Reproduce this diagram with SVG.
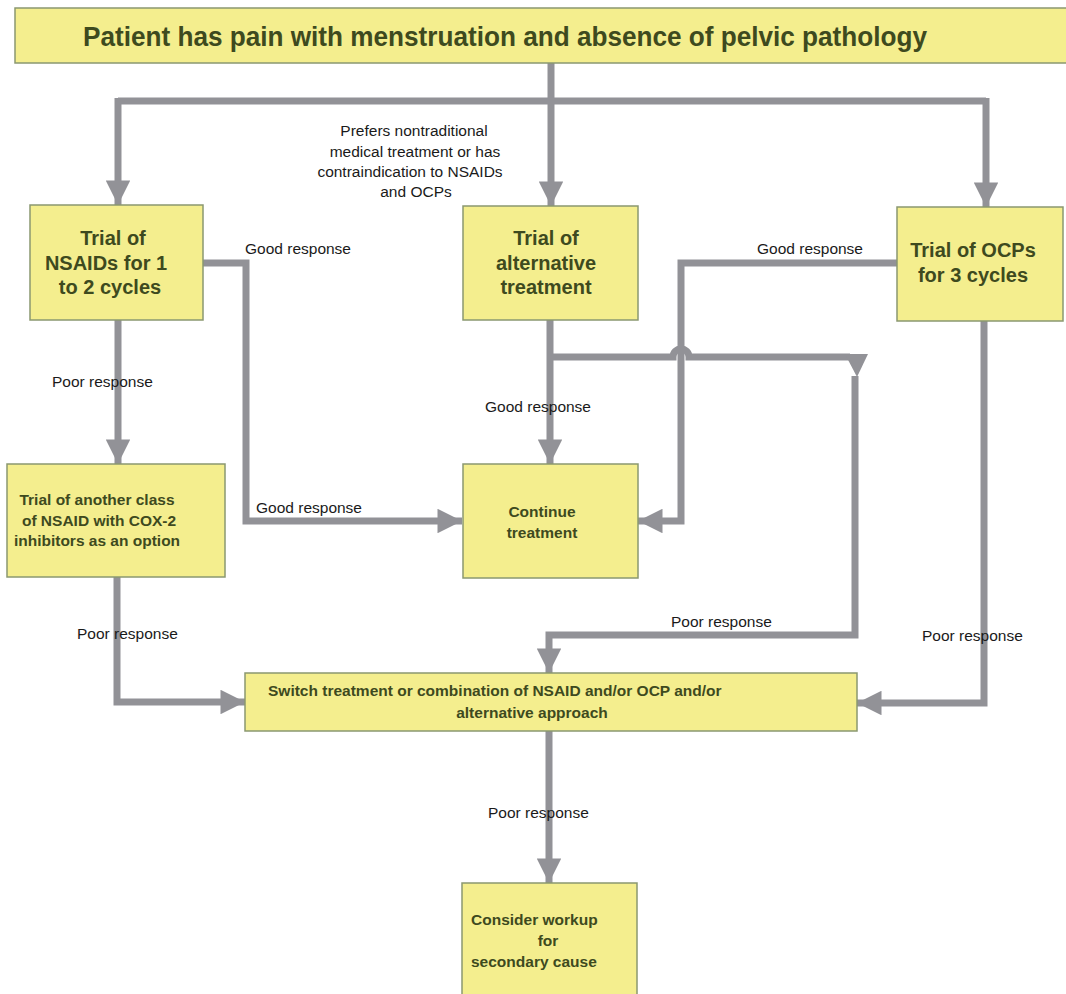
<svg xmlns="http://www.w3.org/2000/svg" width="1066" height="994" viewBox="0 0 1066 994">
<style>
.box{fill:#f4ee8e;stroke:#8a9870;stroke-width:1.5}
.bt{font-family:"Liberation Sans",Arial,sans-serif;font-weight:bold;fill:#3e4a1e}
.big{font-size:20px}
.sm{font-size:15.5px}
.lbl{font-family:"Liberation Sans",Arial,sans-serif;font-size:15.5px;fill:#1a1a1a}
.ln{fill:none;stroke:#929297;stroke-width:7;stroke-linejoin:miter}
.ah{fill:#929297}
</style>
<defs>
<marker id="arr" viewBox="0 0 10 10" refX="10" refY="5" markerWidth="3.8" markerHeight="3.5" orient="auto" markerUnits="strokeWidth">
<path d="M0,0 L10,5 L0,10 z" fill="#929297"/>
</marker>
</defs>
<rect width="1066" height="994" fill="#ffffff"/>

<g id="connectors">
<path class="ln" d="M551,63 V101"/>
<path class="ln" d="M118,101 H986"/>
<path class="ln" d="M118,98 V205" marker-end="url(#arr)"/>
<path class="ln" d="M551,101 V206" marker-end="url(#arr)"/>
<path class="ln" d="M986,98 V207" marker-end="url(#arr)"/>
<path class="ln" d="M203,263 H246 V521 H462" marker-end="url(#arr)"/>
<path class="ln" d="M118,320 V464" marker-end="url(#arr)"/>
<path class="ln" d="M550,320 V464" marker-end="url(#arr)"/>
<path class="ln" d="M550,357 H673 A8,8 0 0 1 689,357 H850"/>
<polygon class="ah" points="845,354 868,354 857,377"/>
<path class="ln" d="M855,376 V635 H549 V673" marker-end="url(#arr)"/>
<path class="ln" d="M897,263 H681 V521 H638" marker-end="url(#arr)"/>
<path class="ln" d="M984,321 V703 H857" marker-end="url(#arr)"/>
<path class="ln" d="M117,577 V702 H245" marker-end="url(#arr)"/>
<path class="ln" d="M549,731 V883" marker-end="url(#arr)"/>
</g>

<g id="labels">
<text class="lbl" x="414" y="136" text-anchor="middle">Prefers nontraditional</text>
<text class="lbl" x="415" y="157" text-anchor="middle">medical treatment or has</text>
<text class="lbl" x="410" y="177" text-anchor="middle">contraindication to NSAIDs</text>
<text class="lbl" x="416" y="197" text-anchor="middle">and OCPs</text>
<text class="lbl" x="245" y="254">Good response</text>
<text class="lbl" x="757" y="254">Good response</text>
<text class="lbl" x="52" y="387">Poor response</text>
<text class="lbl" x="485" y="412">Good response</text>
<text class="lbl" x="256" y="513">Good response</text>
<text class="lbl" x="671" y="627">Poor response</text>
<text class="lbl" x="77" y="639">Poor response</text>
<text class="lbl" x="922" y="641">Poor response</text>
<text class="lbl" x="488" y="818">Poor response</text>
</g>

<g id="n-start">
<rect class="box" x="15" y="8" width="1060" height="55"/>
<text class="bt" x="83" y="46" font-size="27" textLength="844" lengthAdjust="spacingAndGlyphs">Patient has pain with menstruation and absence of pelvic pathology</text>
</g>

<g id="n-nsaids">
<rect class="box" x="30" y="205" width="173" height="115"/>
<text class="bt big" text-anchor="middle"><tspan x="113" y="245">Trial of</tspan><tspan x="106" y="270">NSAIDs for 1</tspan><tspan x="110" y="294">to 2 cycles</tspan></text>
</g>

<g id="n-alt">
<rect class="box" x="463" y="206" width="175" height="114"/>
<text class="bt big" text-anchor="middle"><tspan x="546" y="245">Trial of</tspan><tspan x="546" y="270">alternative</tspan><tspan x="546" y="294">treatment</tspan></text>
</g>

<g id="n-ocps">
<rect class="box" x="897" y="207" width="166" height="114"/>
<text class="bt big" text-anchor="middle"><tspan x="973" y="257">Trial of OCPs</tspan><tspan x="973" y="282">for 3 cycles</tspan></text>
</g>

<g id="n-another">
<rect class="box" x="7" y="464" width="218" height="113"/>
<text class="bt sm" text-anchor="middle"><tspan x="97" y="505">Trial of another class</tspan><tspan x="99" y="526">of NSAID with COX-2</tspan><tspan x="97" y="546">inhibitors as an option</tspan></text>
</g>

<g id="n-continue">
<rect class="box" x="463" y="464" width="175" height="114"/>
<text class="bt sm" text-anchor="middle"><tspan x="542" y="517">Continue</tspan><tspan x="542" y="538">treatment</tspan></text>
</g>

<g id="n-switch">
<rect class="box" x="245" y="673" width="612" height="58"/>
<text class="bt sm"><tspan x="268" y="696">Switch treatment or combination of NSAID and/or OCP and/or</tspan><tspan x="532" y="718" text-anchor="middle">alternative approach</tspan></text>
</g>

<g id="n-consider">
<rect class="box" x="462" y="883" width="175" height="120"/>
<text class="bt sm"><tspan x="471" y="925">Consider workup</tspan><tspan x="548" y="946" text-anchor="middle">for</tspan><tspan x="471" y="967">secondary cause</tspan></text>
</g>
</svg>
